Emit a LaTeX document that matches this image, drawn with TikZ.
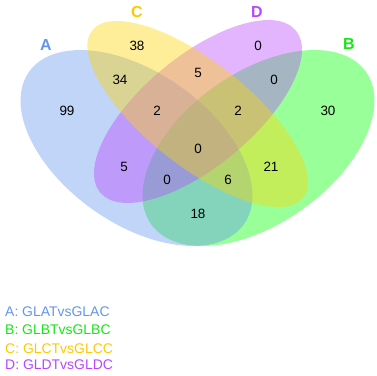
\documentclass[tikz,border=0pt]{standalone}
\usepackage{fontspec}
\setmainfont{Liberation Sans}
\definecolor{colA}{RGB}{100,149,237}
\definecolor{colB}{RGB}{0,255,0}
\definecolor{colC}{RGB}{255,212,0}
\definecolor{colD}{RGB}{185,70,255}
\definecolor{txtB}{RGB}{20,230,20}
\definecolor{txtC}{RGB}{255,200,0}
\tikzset{
  setfill/.style={fill=#1, fill opacity=0.4},
  setlabel/.style={text=#1, font=\fontsize{16}{16}\selectfont\bfseries, inner sep=0pt},
  count/.style={font=\fontsize{13.5}{13.5}\selectfont, inner sep=0pt},
  legend/.style={text=#1, font=\fontsize{14}{14}\selectfont, inner sep=0pt, anchor=west}
}
\begin{document}
\begin{tikzpicture}[x=1bp,y=1bp]
\useasboundingbox (0,0) rectangle (377,-376);
% ellipses, drawn in order B, A, D, C
\fill[setfill=colB, rotate around={35.35:(258.5,-148)}] (258.5,-148) ellipse [x radius=131.7, y radius=75.5];
\fill[setfill=colA, rotate around={-35.35:(136.5,-148)}] (136.5,-148) ellipse [x radius=131.7, y radius=75.5];
\fill[setfill=colD, rotate around={39.6:(198,-111.5)}] (198,-111.5) ellipse [x radius=127, y radius=55.2];
\fill[setfill=colC, rotate around={-38.4:(197.7,-114)}] (197.7,-114) ellipse [x radius=134.6, y radius=52];
% set labels
\node[setlabel=colA] (lA) at (46,-45) {A};
\node[setlabel=txtC] (lC) at (137,-12) {C};
\node[setlabel=colD] (lD) at (257,-12) {D};
\node[setlabel=txtB] (lB) at (349,-44) {B};
% counts
\node[count] (nA) at (67,-111) {99};
\node[count] (nC) at (137,-46) {38};
\node[count] (nD) at (258,-46) {0};
\node[count] (nB) at (328,-111) {30};
\node[count] (nAC) at (120,-80) {34};
\node[count] (nCD) at (198,-73) {5};
\node[count] (nBD) at (274,-80) {0};
\node[count] (nACD) at (157,-111) {2};
\node[count] (nBCD) at (238,-111) {2};
\node[count] (nABCD) at (198,-149) {0};
\node[count] (nAD) at (124,-167) {5};
\node[count] (nBC) at (271,-167) {21};
\node[count] (nABD) at (167,-180) {0};
\node[count] (nABC) at (228,-180) {6};
\node[count] (nAB) at (198,-214) {18};
% legend
\node[legend=colA] (gA) at (5,-311.7) {A: GLATvsGLAC};
\node[legend=txtB] (gB) at (5,-330) {B: GLBTvsGLBC};
\node[legend=txtC] (gC) at (5,-348.3) {C: GLCTvsGLCC};
\node[legend=colD] (gD) at (5,-365) {D: GLDTvsGLDC};
\end{tikzpicture}
\end{document}
